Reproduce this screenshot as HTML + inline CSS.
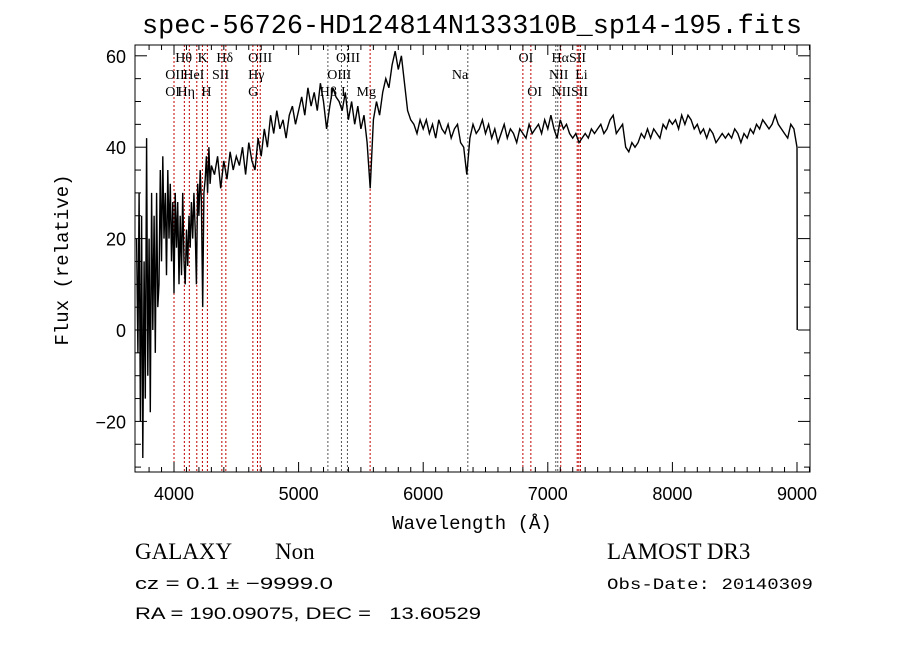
<!DOCTYPE html>
<html><head><meta charset="utf-8">
<style>
body{margin:0;background:#fff;width:900px;height:649px;overflow:hidden}
svg{display:block}
text{fill:#000}
.t{font-family:"Liberation Sans",sans-serif}
.m{font-family:"Liberation Mono",monospace}
.s{font-family:"Liberation Serif",serif}
</style></head>
<body>
<svg id="chart" width="900" height="649" viewBox="0 0 900 649">
<text class="m" x="472" y="33" font-size="27" text-anchor="middle" textLength="660" lengthAdjust="spacingAndGlyphs">spec-56726-HD124814N133310B_sp14-195.fits</text>
<g id="lines"></g>
<g id="labels"></g>
<path id="spec" fill="none" stroke="#000" stroke-width="1.4"/>
<rect x="135" y="45" width="675" height="427" fill="none" stroke="#000" stroke-width="1"/>
<g id="axes"></g>
<text class="m" x="472" y="529" font-size="19" text-anchor="middle">Wavelength (Å)</text>
<text class="m" x="68" y="260" font-size="19" text-anchor="middle" transform="rotate(-90 68 260)">Flux (relative)</text>
<text class="s" x="135" y="559" font-size="23">GALAXY</text>
<text class="s" x="275" y="559" font-size="23">Non</text>
<text class="t" x="135" y="589" font-size="17" textLength="198" lengthAdjust="spacingAndGlyphs" style="white-space:pre">cz = 0.1 ± −9999.0</text>
<text class="t" x="135" y="619" font-size="17" textLength="346" lengthAdjust="spacingAndGlyphs" style="white-space:pre">RA = 190.09075, DEC =   13.60529</text>
<text class="s" x="607" y="559" font-size="23">LAMOST DR3</text>
<text class="m" x="607" y="589" font-size="16" textLength="206" lengthAdjust="spacingAndGlyphs">Obs-Date: 20140309</text>
</svg>
<script>
const blueFlux=[20,-5,30,-20,25,-28,15,-15,42,-10,20,-18,30,0,25,-5,30,5,10,35,15,38,20,30,12,35,20,32,15,28,8,30,18,28,10,25,12,30,15,10,22,14,25,18,28,20,30,22,10,32,25,35,28,5,30,33,38,30,40,32,36];
const redFlux=[34,38,31,37,33,39,35,38,36,40,34,41,37,35,42,38,44,40,47,43,48,44,46,42,47,49,45,48,51,47,53,49,52,48,54,50,44,49,53,51,50,48,52,46,50,45,49,44,47,41,31,46,50,47,52,55,53,58,61,57,60,54,48,46,45,43,46,44,46,43,45,42,46,44,43,45,42,44,45,41,40,34,42,45,43,44,46,43,45,42,44,41,43,45,42,44,43,41,44,43,42,45,43,44,45,43,46,44,47,44,42,46,44,45,43,42,43,41,42,43,42,44,43,44,45,43,44,46,47,43,44,45,40,39,41,40,41,43,42,44,42,44,43,42,45,44,46,45,46,44,47,45,47,46,44,45,43,44,42,44,43,41,42,43,42,43,42,44,43,41,43,42,44,43,45,44,46,45,44,45,47,45,44,43,42,45,44,40];
const tailWave=[9001,9002];
const tailFlux=[30,0];
const lineWaves=[4000,4083,4123,4183,4228,4268,4384,4416,4633,4670,4692,5235,5344,5392,5574,6358,6800,6864,7064,7080,7104,7236,7249,7262];
const lineDark=[0,0,0,0,0,0,0,0,0,0,0,1,1,1,0,1,0,0,1,1,0,0,0,0];
const labelText=["Hθ","K","Hδ","OIII","OIII","OI","HαSII","OII","HeI","SII","Hγ","OIII","Na","NII","Li","OI","Hη","H","G","Hβ","I","Mg","OI","NIISII"];
const labelWave=[4010,4190,4340,4595,5300,6765,7030,3930,4075,4305,4595,5230,6230,7010,7220,3930,4028,4220,4595,5170,5340,5465,6835,7030];
const labelRow=[0,0,0,0,0,0,0,1,1,1,1,1,1,1,1,2,2,2,2,2,2,2,2,2];
const xTicks=[4000,5000,6000,7000,8000,9000];
const yTicks=[-20,0,20,40,60];
const NS="http://www.w3.org/2000/svg";
const X=w=>174+(w-4000)*0.1246;
const Y=f=>330-f*4.57;
function mk(tag,parent,attrs){const e=document.createElementNS(NS,tag);for(const k in attrs)e.setAttribute(k,attrs[k]);parent.appendChild(e);return e;}
let pts=[];
blueFlux.forEach((f,i)=>pts.push([3700+i*10,f]));
redFlux.forEach((f,i)=>pts.push([4325+i*25,f]));
tailFlux.forEach((f,i)=>pts.push([tailWave[i],f]));
document.getElementById('spec').setAttribute('d',pts.map((p,i)=>(i?'L':'M')+X(p[0]).toFixed(1)+' '+Y(p[1]).toFixed(1)).join(''));
const lg=document.getElementById('lines');
lineWaves.forEach((w,i)=>{
  const l=mk('line',lg,{x1:X(w),x2:X(w),y1:45,y2:472,stroke:lineDark[i]?'#555':'#c00000','stroke-width':1,'stroke-dasharray':'2,2'});
  
  
});
const lb=document.getElementById('labels');
labelText.forEach((t,i)=>{
  const e=mk('text',lb,{x:X(labelWave[i]),y:62+labelRow[i]*17,'font-size':14,'class':'s'});
  e.textContent=t;
  
  
});
const ax=document.getElementById('axes');
for(let w=3800;w<=9100;w+=100){
  const major=w%1000===0, len=major?10:5;
  mk('line',ax,{x1:X(w),x2:X(w),y1:472,y2:472-len,stroke:'#000'});
  mk('line',ax,{x1:X(w),x2:X(w),y1:45,y2:45+len,stroke:'#000'});
}
for(let f=-30;f<=60;f+=5){
  const major=f%20===0, len=major?12:6;
  mk('line',ax,{x1:135,x2:135+len,y1:Y(f),y2:Y(f),stroke:'#000'});
  mk('line',ax,{x1:810,x2:810-len,y1:Y(f),y2:Y(f),stroke:'#000'});
}
xTicks.forEach(w=>{
  const e=mk('text',ax,{x:X(w),y:500,'font-size':18,'text-anchor':'middle','class':'t'});
  e.textContent=w;
  
  
});
yTicks.forEach(f=>{
  const e=mk('text',ax,{x:126,y:Y(f)+7,'font-size':18,'text-anchor':'end','class':'t'});
  e.textContent=f<0?'\u2212'+(-f):f;
  
  
});
</script>
</body></html>
